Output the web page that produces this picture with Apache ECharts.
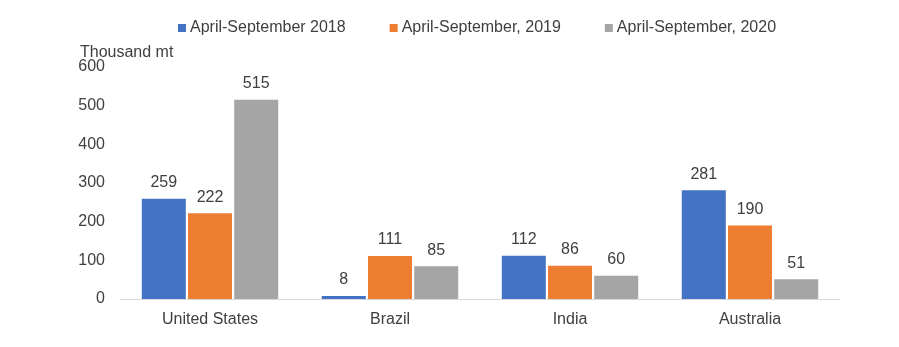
<!DOCTYPE html>
<html><head><meta charset="utf-8">
<script src="https://cdn.jsdelivr.net/npm/echarts@6/dist/echarts.min.js"></script>
<style>html,body{margin:0;padding:0;background:#fff}#c{width:899px;height:347px}</style>
</head><body><div id="c"></div>
<script>
const categories = ['United States', 'Brazil', 'India', 'Australia'];
const seriesNames = ['April-September 2018', 'April-September, 2019', 'April-September, 2020'];
const s2018 = [259, 8, 112, 281];
const s2019 = [222, 111, 86, 190];
const s2020 = [515, 85, 60, 51];
const yTicks = [0, 100, 200, 300, 400, 500, 600];
const colors = ['#4472C4', '#ED7D31', '#A5A5A5'];
const font = 'Liberation Sans';
const chart = echarts.init(document.getElementById('c'));
const mk = (name, data, i) => ({
  name, type: 'bar', data, barWidth: 44, barGap: '5%',
  itemStyle: { color: colors[i] },
  label: { show: true, position: 'top', distance: 8, color: '#404040', fontSize: 16, fontFamily: font }
});
chart.setOption({
  animation: false,
  color: colors,
  textStyle: { fontFamily: font },
  legend: {
    left: 173, top: 15, itemWidth: 8, itemHeight: 8, itemGap: 44,
    icon: 'rect',
    textStyle: { color: '#404040', fontSize: 16, fontFamily: font, padding: [0, 0, 0, -1] },
    data: seriesNames
  },
  grid: { left: 120, right: 59, top: 67, bottom: 48 },
  graphic: [{ type: 'text', left: 80, top: 45, style: { text: 'Thousand mt', fill: '#404040', font: '16px "Liberation Sans"' } }],
  xAxis: {
    type: 'category', data: categories,
    axisLine: { lineStyle: { color: '#D9D9D9', width: 1 } },
    axisTick: { show: false },
    axisLabel: { color: '#404040', fontSize: 16, fontFamily: font, margin: 13 }
  },
  yAxis: {
    type: 'value', min: yTicks[0], max: yTicks[yTicks.length - 1], interval: 100,
    splitLine: { show: false },
    axisLine: { show: false }, axisTick: { show: false },
    axisLabel: { color: '#404040', fontSize: 16, fontFamily: font, margin: 15 }
  },
  series: [mk(seriesNames[0], s2018, 0), mk(seriesNames[1], s2019, 1), mk(seriesNames[2], s2020, 2)]
});
</script></body></html>
